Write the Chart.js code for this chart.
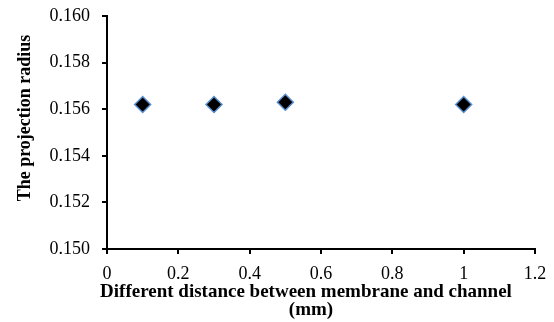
<!DOCTYPE html>
<html>
<head>
<meta charset="utf-8">
<script src="https://cdn.jsdelivr.net/npm/chart.js@4/dist/chart.umd.min.js"></script>
<style>
  html, body { margin: 0; padding: 0; background: #fff; }
  #wrap { width: 554px; height: 322px; }
</style>
</head>
<body>
<div id="wrap"><canvas id="chart" width="554" height="322"></canvas></div>
<script>
// values
const distances = [0.1, 0.3, 0.5, 1.0];
const radii = [0.1562, 0.1562, 0.1563, 0.1562];
const xTitle = ['Different distance between membrane and channel', '(mm)'];
const yTitle = 'The projection radius';

const serif = 'Liberation Serif, Times New Roman, serif';

// axis titles drawn by hand so they sit where the original put them
const axisTitles = {
    id: 'axisTitles',
    afterDraw(chart) {
        const ctx = chart.ctx;
        ctx.save();
        ctx.fillStyle = '#000';
        ctx.textAlign = 'center';
        ctx.textBaseline = 'middle';
        ctx.font = 'bold 19px ' + serif;
        ctx.fillText(xTitle[0], 306, 292);
        ctx.fillText(xTitle[1], 311, 310);
        ctx.font = 'bold 18px ' + serif;
        ctx.translate(25, 118);
        ctx.rotate(-Math.PI / 2);
        ctx.fillText(yTitle, 0, 0);
        ctx.restore();
    },
};

new Chart(document.getElementById('chart'), {
    type: 'scatter',
    data: {
        datasets: [{
            data: distances.map((x, i) => ({ x, y: radii[i] })),
            pointStyle: 'rectRot',
            pointRadius: 8,
            pointHoverRadius: 8,
            backgroundColor: '#000',
            borderColor: '#5b8fd0',
            borderWidth: 1.5,
        }],
    },
    plugins: [axisTitles],
    options: {
        responsive: false,
        animation: false,
        layout: { padding: { top: 16, right: 19, bottom: 0, left: 0 } },
        plugins: { legend: { display: false }, tooltip: { enabled: false } },
        scales: {
            x: {
                type: 'linear',
                min: 0, max: 1.2,
                border: { color: '#000', width: 2 },
                grid: { drawOnChartArea: false, color: '#000', tickLength: 5, lineWidth: 2 },
                ticks: {
                    stepSize: 0.2, padding: 9, color: '#000',
                    font: { family: serif, size: 18 },
                    callback: v => Math.round(v * 10) / 10,
                },
                afterFit: s => { s.height = 73; s.paddingLeft = 0; s.paddingRight = 0; },
            },
            y: {
                min: 0.150, max: 0.160,
                border: { color: '#000', width: 2 },
                grid: { drawOnChartArea: false, color: '#000', tickLength: 5, lineWidth: 2 },
                ticks: {
                    stepSize: 0.002, padding: 12, color: '#000',
                    font: { family: serif, size: 18 },
                    callback: v => v.toFixed(3),
                },
                afterFit: s => { s.width = 107; s.paddingTop = 0; s.paddingBottom = 0; },
            },
        },
    },
});
</script>
</body>
</html>
